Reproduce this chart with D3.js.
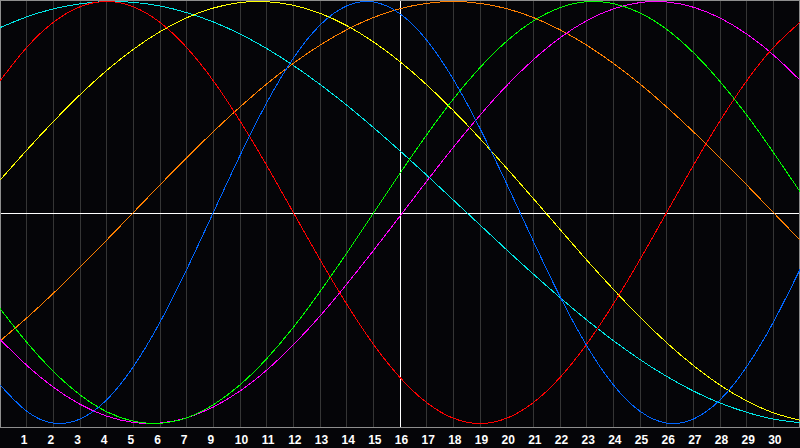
<!DOCTYPE html>
<html>
<head>
<meta charset="utf-8">
<script src="https://cdn.jsdelivr.net/npm/d3@7"></script>
<style>
html,body{margin:0;padding:0;background:#050508;overflow:hidden}
svg{display:block}
</style>
</head>
<body>
<svg id="chart" width="800" height="448"></svg>
<script>
// day positions (x index along the chart)
const days = [0,1,2,3,4,5,6,7,8,9,10,11,12,13,14,15,16,17,18,19,20,21,22,23,24,25,26,27,28,29,30];
// tick positions and their labels (as printed in the reference; note "8" is missing)
const tickDays = [1,2,3,4,5,6,7,8,9,10,11,12,13,14,15,16,17,18,19,20,21,22,23,24,25,26,27,28,29];
const tickLabels = ["1","2","3","4","5","6","7","9","10","11","12","13","14","15","16","17","18","19","20","21","22","23","24","25","26","27","28","29","30"];
const todayIndex = 15;

// cycle values, one value per day position
const physical     = [-0.817,-0.942,-0.998,-0.979,-0.888,-0.731,-0.520,-0.270,0.000,0.270,0.520,0.731,0.888,0.979,0.998,0.942,0.817,0.631,0.398,0.136,-0.136,-0.398,-0.631,-0.817,-0.942,-0.998,-0.979,-0.888,-0.731,-0.520,-0.270];
const emotional    = [0.624,0.782,0.901,0.975,1.000,0.975,0.901,0.782,0.624,0.434,0.223,0.000,-0.223,-0.434,-0.624,-0.782,-0.901,-0.975,-1.000,-0.975,-0.901,-0.782,-0.624,-0.434,-0.223,0.000,0.223,0.434,0.624,0.782,0.901];
const intellectual = [-0.455,-0.615,-0.753,-0.864,-0.944,-0.989,-0.999,-0.973,-0.911,-0.817,-0.693,-0.544,-0.375,-0.193,-0.004,0.186,0.368,0.538,0.687,0.812,0.908,0.971,0.999,0.990,0.946,0.868,0.758,0.621,0.462,0.285,0.099];
const intuitive    = [-0.601,-0.724,-0.828,-0.909,-0.965,-0.995,-0.998,-0.973,-0.922,-0.846,-0.747,-0.627,-0.491,-0.340,-0.181,-0.017,0.148,0.309,0.461,0.601,0.724,0.828,0.909,0.965,0.995,0.998,0.973,0.922,0.846,0.747,0.627];
const aesthetic    = [0.153,0.295,0.431,0.558,0.673,0.773,0.857,0.923,0.969,0.995,0.999,0.982,0.944,0.886,0.809,0.715,0.605,0.483,0.350,0.210,0.066,-0.080,-0.225,-0.364,-0.496,-0.617,-0.725,-0.818,-0.893,-0.949,-0.985];
const awareness    = [-0.609,-0.500,-0.383,-0.259,-0.131,0.000,0.131,0.259,0.383,0.500,0.609,0.707,0.793,0.866,0.924,0.966,0.991,1.000,0.991,0.966,0.924,0.866,0.793,0.707,0.609,0.500,0.383,0.259,0.131,0.000,-0.131];
const spiritual    = [0.876,0.927,0.965,0.989,1.000,0.996,0.979,0.947,0.903,0.846,0.777,0.697,0.607,0.509,0.403,0.292,0.177,0.059,-0.059,-0.177,-0.292,-0.403,-0.509,-0.607,-0.697,-0.777,-0.846,-0.903,-0.947,-0.979,-0.996];

const series = [
  {name: "Spiritual",    values: spiritual,    color: "#00e8e8"},
  {name: "Awareness",    values: awareness,    color: "#ff8000"},
  {name: "Aesthetic",    values: aesthetic,    color: "#ffff00"},
  {name: "Intuitive",    values: intuitive,    color: "#ff00ff"},
  {name: "Intellectual", values: intellectual, color: "#00ff00"},
  {name: "Emotional",    values: emotional,    color: "#ff0000"},
  {name: "Physical",     values: physical,     color: "#0066ff"}
];

const W = 800, H = 448, plotBottom = 427;
const svg = d3.select("#chart");
const x = d3.scaleLinear().domain([0, 30]).range([0, 800]);
const y = d3.scaleLinear().domain([-1, 1]).range([423.5, 1.5]);

svg.append("rect").attr("width", W).attr("height", H).attr("fill", "#050508");

// vertical grid
svg.append("g").selectAll("line").data(tickDays).join("line")
  .attr("x1", d => Math.floor(x(d)) + 0.5).attr("x2", d => Math.floor(x(d)) + 0.5)
  .attr("y1", 0).attr("y2", plotBottom)
  .attr("stroke", "#353535").attr("stroke-width", 1).attr("shape-rendering", "crispEdges");

// frame
svg.append("rect").attr("x", 0.5).attr("y", 0.5).attr("width", 799).attr("height", plotBottom)
  .attr("fill", "none").attr("stroke", "#8e8e8e").attr("shape-rendering", "crispEdges");

// zero line and today line
svg.append("line").attr("x1", 1).attr("x2", 799)
  .attr("y1", Math.round(y(0)) + 0.5).attr("y2", Math.round(y(0)) + 0.5)
  .attr("stroke", "#ffffff").attr("shape-rendering", "crispEdges");
svg.append("line").attr("x1", Math.floor(x(todayIndex)) + 0.5).attr("x2", Math.floor(x(todayIndex)) + 0.5)
  .attr("y1", 1).attr("y2", plotBottom)
  .attr("stroke", "#ffffff").attr("shape-rendering", "crispEdges");

// curves
const line = d3.line().x(d => x(d.t)).y(d => y(d.v)).curve(d3.curveNatural);
svg.append("g").selectAll("path").data(series).join("path")
  .attr("d", s => line(days.map((t, i) => ({t: t, v: s.values[i]}))))
  .attr("fill", "none").attr("stroke", s => s.color).attr("stroke-width", 1)
  .attr("shape-rendering", "crispEdges");

// axis labels
const axis = d3.axisBottom(x).tickValues(tickDays)
  .tickFormat((d, i) => tickLabels[i]).tickSize(0).tickPadding(0);
const ag = svg.append("g").attr("transform", "translate(0,435)").call(axis);
ag.select(".domain").remove();
ag.selectAll("text")
  .attr("fill", "#ffffff")
  .attr("font-family", "'Liberation Sans', Arial, sans-serif")
  .attr("font-size", 12).attr("font-weight", "bold")
  .attr("dx", (d, i) => tickLabels[i].length === 1 ? -3 : 1);
</script>
</body>
</html>
